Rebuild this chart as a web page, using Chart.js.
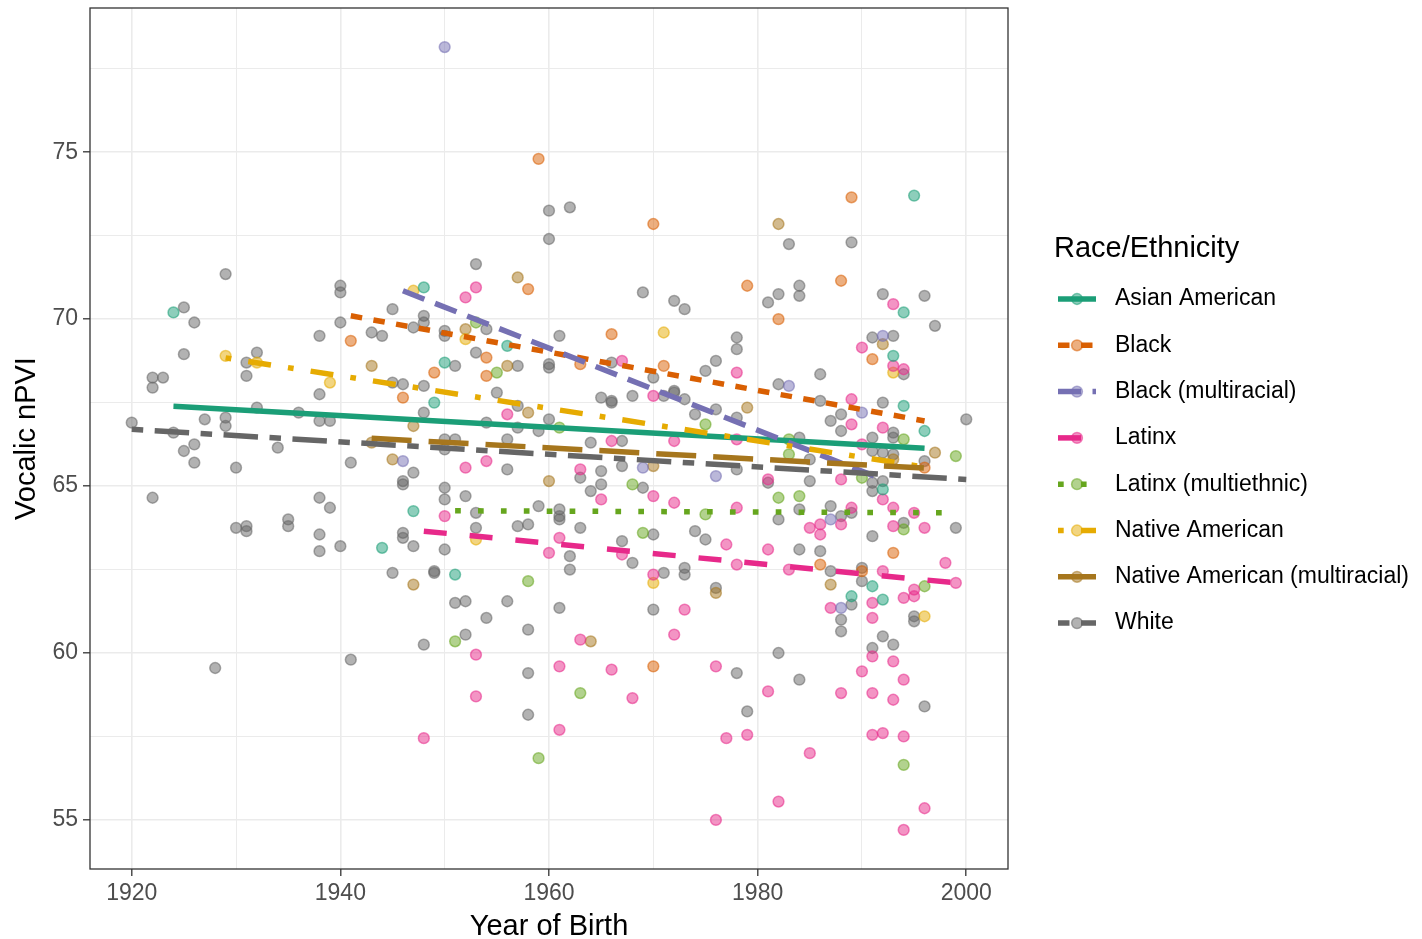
<!DOCTYPE html>
<html>
<head>
<meta charset="utf-8">
<script src="https://cdn.jsdelivr.net/npm/chart.js@4/dist/chart.umd.min.js"></script>
<style>
html,body{margin:0;padding:0;background:#fff;}
#wrap{width:1422px;height:939px;}
</style>
</head>
<body>
<div id="wrap"><canvas id="myChart" width="1422" height="939"></canvas></div>
<script>
// groups, in legend order
const groups = ["Asian American","Black","Black (multiracial)","Latinx","Latinx (multiethnic)","Native American","Native American (multiracial)","White"];

// [year of birth, vocalic nPVI]
const asianAmerican = [[1924,70.2],[1944,63.15],[1947,64.25],[1948,70.95],[1949,67.5],[1950,68.7],[1951,62.35],[1956,69.2],
    [1989,61.7],[1991,62.0],[1992,64.9],[1992,61.6],[1993,68.9],[1994,70.2],[1994,67.4],[1995,73.7],[1996,66.65]];
const black = [[1941,69.35],[1946,67.65],[1949,68.4],[1954,68.85],[1954,68.3],[1958,70.9],[1959,74.8],[1963,68.65],[1966,69.55],
    [1970,72.85],[1970,59.6],[1971,68.6],[1979,71.0],[1982,70.0],[1986,62.65],[1988,71.15],[1989,73.65],[1990,62.45],
    [1991,68.8],[1993,63.0],[1996,65.55]];
const blackMulti = [[1946,65.75],[1950,78.15],[1969,65.55],[1976,65.3],[1983,68.0],[1987,64.0],[1988,61.35],[1990,67.2],[1992,69.5]];
const latinx = [[1948,57.45],[1950,64.1],[1952,70.65],[1952,65.55],[1953,70.95],[1953,59.95],[1953,58.7],[1954,65.75],[1956,67.15],
    [1960,63.0],[1961,63.45],[1961,59.6],[1961,57.7],[1963,65.5],[1963,60.4],[1965,64.6],[1966,66.35],[1966,59.5],
    [1967,68.75],[1967,62.95],[1968,58.65],[1970,67.7],[1970,64.7],[1970,62.35],[1972,66.35],[1972,64.5],[1972,60.55],
    [1973,61.3],[1976,59.6],[1976,55.0],[1977,63.25],[1977,57.45],[1978,68.4],[1978,66.4],[1978,64.35],[1978,62.65],
    [1979,57.55],[1981,65.2],[1981,63.1],[1981,58.85],[1982,55.55],[1983,62.5],[1985,63.75],[1985,57.0],[1986,63.85],
    [1986,63.55],[1987,61.35],[1988,65.2],[1988,63.85],[1988,58.8],[1989,67.6],[1989,66.85],[1989,64.35],[1990,69.15],
    [1990,66.25],[1990,59.45],[1991,61.5],[1991,61.05],[1991,59.9],[1991,58.8],[1991,57.55],[1992,66.75],[1992,64.6],
    [1992,62.45],[1992,57.6],[1993,70.45],[1993,68.6],[1993,64.35],[1993,63.8],[1993,59.75],[1993,58.6],[1994,68.5],
    [1994,61.65],[1994,59.2],[1994,57.5],[1994,54.7],[1995,64.2],[1995,61.9],[1995,61.7],[1996,63.75],[1996,55.35],
    [1998,62.7],[1999,62.1]];
const latinxMulti = [[1951,60.35],[1953,69.9],[1955,68.4],[1958,62.15],[1959,56.85],[1961,66.75],[1963,58.8],[1968,65.05],
    [1969,63.6],[1975,66.85],[1975,64.15],[1982,64.65],[1983,66.4],[1983,65.95],[1984,64.7],[1990,65.25],[1994,66.4],
    [1994,63.7],[1994,56.65],[1996,62.0],[1999,65.9]];
const nativeAmerican = [[1929,68.9],[1932,68.7],[1939,68.1],[1947,70.85],[1952,69.4],[1953,63.4],[1970,62.1],[1971,69.6],[1993,68.4],[1996,61.1]];
const nativeMulti = [[1943,68.6],[1943,66.3],[1945,65.8],[1947,66.8],[1947,62.05],[1952,69.7],[1956,68.6],[1957,71.25],[1958,67.2],
    [1960,65.15],[1964,60.35],[1970,65.6],[1976,61.8],[1979,67.35],[1982,72.85],[1987,62.05],[1992,69.25],[1993,65.8],[1997,66.0]];
const white = [[1920,66.9],[1922,68.25],[1922,67.95],[1922,64.65],[1923,68.25],[1924,66.6],[1925,70.35],[1925,68.95],[1925,66.05],
    [1926,69.9],[1926,66.25],[1926,65.7],[1927,67.0],[1928,59.55],[1929,71.35],[1929,67.05],[1929,66.8],[1930,65.55],[1930,63.75],
    [1931,68.7],[1931,68.3],[1931,63.8],[1931,63.65],[1932,69.0],[1932,67.35],[1934,66.15],[1935,64.0],[1935,63.8],[1936,67.2],
    [1938,69.5],[1938,67.75],[1938,66.95],[1938,64.65],[1938,63.55],[1938,63.05],[1939,66.95],[1939,64.35],[1940,71.0],[1940,70.8],
    [1940,69.9],[1940,63.2],[1941,65.7],[1941,59.8],[1943,69.6],[1944,69.5],[1945,70.3],[1945,68.1],[1945,62.4],
    [1946,68.05],[1946,65.15],[1946,65.05],[1946,63.6],[1946,63.45],[1947,69.75],[1947,65.4],[1947,63.2],[1948,70.1],[1948,69.9],
    [1948,68.0],[1948,67.2],[1948,60.25],[1949,62.45],[1949,62.4],[1950,69.65],[1950,69.5],[1950,66.4],[1950,66.1],[1950,64.95],
    [1950,64.6],[1950,63.1],[1951,68.6],[1951,66.4],[1951,61.5],[1952,64.7],[1952,61.55],[1952,60.55],[1953,71.65],[1953,69.0],
    [1953,64.2],[1953,63.75],[1954,69.7],[1954,66.9],[1954,61.05],[1955,67.8],[1956,66.4],[1956,65.5],[1956,61.55],[1957,68.6],
    [1957,67.4],[1957,66.75],[1957,63.8],[1958,63.85],[1958,60.7],[1958,59.4],[1958,58.15],[1959,66.65],[1959,64.4],[1960,73.25],
    [1960,72.4],[1960,68.65],[1960,68.55],[1960,67.0],[1961,69.5],[1961,64.3],[1961,64.1],[1961,64.0],[1961,61.35],[1962,73.35],
    [1962,62.9],[1962,62.5],[1963,65.25],[1963,63.75],[1964,66.3],[1964,64.85],[1965,67.65],[1965,65.45],[1965,65.05],[1966,68.7],
    [1966,67.5],[1966,67.55],[1967,66.35],[1967,65.6],[1967,63.35],[1968,67.7],[1968,62.7],[1969,70.8],[1969,64.95],[1970,68.25],
    [1970,63.55],[1970,61.3],[1971,67.7],[1971,62.4],[1972,70.55],[1972,67.85],[1972,67.8],[1973,70.3],[1973,67.6],[1973,62.55],
    [1973,62.35],[1974,67.15],[1974,63.65],[1975,68.45],[1975,63.4],[1976,68.75],[1976,67.3],[1976,61.95],[1978,69.45],[1978,69.1],
    [1978,67.05],[1978,65.5],[1978,59.4],[1979,58.25],[1981,70.5],[1981,65.1],[1982,70.75],[1982,68.05],[1982,64.0],[1982,60.0],
    [1983,72.25],[1984,71.0],[1984,70.7],[1984,66.45],[1984,64.3],[1984,63.1],[1984,59.2],[1985,65.8],[1985,65.15],[1986,68.35],
    [1986,67.55],[1986,63.05],[1987,66.95],[1987,64.4],[1987,62.45],[1988,67.15],[1988,66.65],[1988,64.1],[1988,61.0],[1988,60.65],
    [1989,72.3],[1989,64.2],[1989,61.45],[1990,62.55],[1990,62.15],[1991,69.45],[1991,66.45],[1991,66.05],[1991,65.1],[1991,64.85],
    [1991,63.5],[1991,60.15],[1992,70.75],[1992,67.5],[1992,66.0],[1992,65.15],[1992,60.5],[1993,69.5],[1993,66.6],[1993,66.45],
    [1993,65.95],[1993,60.25],[1994,68.35],[1994,63.9],[1995,61.1],[1995,60.95],[1996,70.7],[1996,65.75],[1996,58.4],[1997,69.8],
    [1999,63.75],[2000,67.0]];
const points = [asianAmerican, black, blackMulti, latinx, latinxMulti, nativeAmerican, nativeMulti, white];

// linear fit per group: first and last year, fitted value there
const fitYears = [[1924,1996],[1941,1996],[1946,1992],[1948,1999],[1951,1999],[1929,1996],[1943,1997],[1920,2000]];
const fitValues = [[67.39,66.13],[70.1,66.95],[70.85,65.2],[63.65,62.1],[64.26,64.2],[68.84,65.57],[66.43,65.52],[66.7,65.2]];

// axis ticks
const xTicks = [1920,1940,1960,1980,2000];
const yTicks = [55,60,65,70,75];

const colours = ["#1B9E77","#D95F02","#7570B3","#E7298A","#66A61E","#E6AB02","#A6761D","#666666"];
const dashes = [[],[11.5,11.5],[23,11.5],[23,23],[5.7,17.2],[5.7,17.2,23,17.2],[40,17],[11.5,11.5,34.5,11.5]];
const FONT = "'Liberation Sans', Arial, Helvetica, sans-serif";

function alpha(hex, a){
    let r=parseInt(hex.slice(1,3),16), g=parseInt(hex.slice(3,5),16), b=parseInt(hex.slice(5,7),16);
    return "rgba("+r+","+g+","+b+","+a+")";
}

let datasets = [];
for(let i=0;i<groups.length;i++){
    datasets.push({
        type:"line",
        label:groups[i]+" fit",
        data:[{x:fitYears[i][0],y:fitValues[i][0]},{x:fitYears[i][1],y:fitValues[i][1]}],
        borderColor:colours[i],
        borderWidth:5.5,
        borderDash:dashes[i],
        borderCapStyle:"butt",
        pointRadius:0,
        fill:false,
        order:1-i*0.01
    });
}
for(let i=0;i<groups.length;i++){
    datasets.push({
        type:"scatter",
        label:groups[i],
        data:points[i].map(p=>({x:p[0],y:p[1]})),
        backgroundColor:alpha(colours[i],0.5),
        borderColor:alpha(colours[i],0.55),
        borderWidth:1.5,
        pointRadius:5.4,
        order:2
    });
}

// panel border + ggplot-like legend on the right
const extras = {
    id:"extras",
    afterDraw(chart){
        let ctx=chart.ctx, a=chart.chartArea;
        ctx.save();
        ctx.strokeStyle="#333333";
        ctx.lineWidth=1.3;
        ctx.strokeRect(a.left,a.top,a.right-a.left,a.bottom-a.top);

        ctx.fillStyle="#000";
        ctx.textBaseline="middle";
        ctx.textAlign="left";
        ctx.font="29px "+FONT;
        ctx.fillText("Race/Ethnicity",1054,249);
        ctx.font="23px "+FONT;
        for(let i=0;i<groups.length;i++){
            let y=299+i*46.3;
            ctx.strokeStyle=colours[i];
            ctx.lineWidth=5.5;
            ctx.lineCap="butt";
            ctx.setLineDash(dashes[i]);
            ctx.beginPath();
            ctx.moveTo(1058,y);
            ctx.lineTo(1096,y);
            ctx.stroke();
            ctx.setLineDash([]);
            ctx.beginPath();
            ctx.arc(1077,y,5.4,0,Math.PI*2);
            ctx.fillStyle=alpha(colours[i],0.5);
            ctx.fill();
            ctx.lineWidth=1.5;
            ctx.strokeStyle=alpha(colours[i],0.55);
            ctx.stroke();
            ctx.fillStyle="#000";
            ctx.fillText(groups[i],1115,y);
        }
        ctx.restore();
    }
};

new Chart(document.getElementById("myChart"),{
    type:"scatter",
    data:{datasets:datasets},
    plugins:[extras],
    options:{
        responsive:false,
        animation:false,
        devicePixelRatio:1,
        layout:{padding:{top:8,right:414,left:0,bottom:0}},
        plugins:{legend:{display:false},tooltip:{enabled:false}},
        scales:{
            x:{
                type:"linear",
                min:1916,max:2004,
                afterFit(s){ s.height=70; s.paddingLeft=0; s.paddingRight=0; },
                border:{display:false},
                grid:{
                    color:"#EBEBEB",
                    lineWidth:c=>xTicks.includes(c.tick&&c.tick.value)?1.6:1,
                    tickColor:c=>xTicks.includes(c.tick&&c.tick.value)?"#333333":"rgba(0,0,0,0)",
                    tickWidth:1.3,
                    tickLength:7
                },
                ticks:{
                    stepSize:10,
                    includeBounds:false,
                    maxRotation:0,
                    autoSkip:false,
                    padding:4,
                    color:"#4D4D4D",
                    font:{family:FONT,size:23},
                    callback:v=>xTicks.includes(v)?String(v):""
                },
                title:{display:true,text:"Year of Birth",color:"#000",font:{family:FONT,size:29,lineHeight:1},padding:{top:0,bottom:-2}}
            },
            y:{
                type:"linear",
                min:53.53,max:79.32,
                afterFit(s){ s.width=90; s.paddingTop=0; s.paddingBottom=0; },
                border:{display:false},
                grid:{
                    color:"#EBEBEB",
                    lineWidth:c=>yTicks.includes(c.tick&&c.tick.value)?1.6:1,
                    tickColor:c=>yTicks.includes(c.tick&&c.tick.value)?"#333333":"rgba(0,0,0,0)",
                    tickWidth:1.3,
                    tickLength:7
                },
                ticks:{
                    stepSize:2.5,
                    includeBounds:false,
                    autoSkip:false,
                    padding:5,
                    color:"#4D4D4D",
                    font:{family:FONT,size:23},
                    callback:v=>yTicks.includes(v)?String(v):""
                },
                title:{display:true,text:"Vocalic nPVI",color:"#000",font:{family:FONT,size:29,lineHeight:1},padding:{top:12,bottom:0}}
            }
        }
    }
});
</script>
</body>
</html>
